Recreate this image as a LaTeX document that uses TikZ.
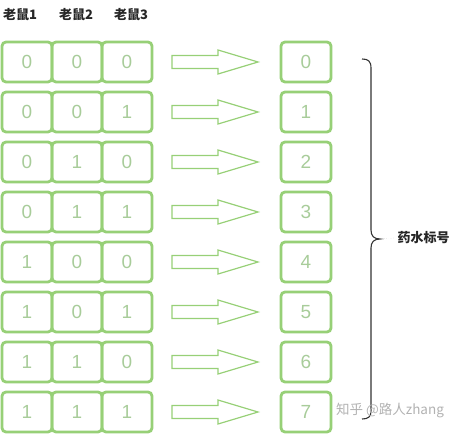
\documentclass[tikz,border=0pt]{standalone}
\usepackage{fontspec}
\setmainfont{Liberation Sans}
\newfontfamily\cjk{Noto Sans CJK SC}
\usetikzlibrary{positioning}

\definecolor{sketchgreen}{HTML}{97D077}
\definecolor{digitgreen}{HTML}{A8CC9A}
\definecolor{bracegray}{HTML}{333333}

\tikzset{
  cellbox/.style={draw=sketchgreen, line width=2.8pt, rounded corners=4pt,
    minimum width=50pt, minimum height=40pt, inner sep=0pt, outer sep=0pt,
    text=digitgreen, font=\fontsize{19}{19}\selectfont},
  blockarrow/.style={draw=sketchgreen, line width=1.2pt, line join=miter},
  headlabel/.style={font=\cjk\bfseries\fontsize{13}{13}\selectfont, text=black!85},
}

\begin{document}
\begin{tikzpicture}[x=1pt,y=-1pt]
	\useasboundingbox (0,0) rectangle (457,433);

	\node[headlabel] (mouse1) at (20,15)  {老鼠1};
	\node[headlabel] (mouse2) at (76,15)  {老鼠2};
	\node[headlabel] (mouse3) at (131,15) {老鼠3};

	\foreach \a/\b/\c [count=\r from 0] in {0/0/0,0/0/1,0/1/0,0/1/1,1/0/0,1/0/1,1/1/0,1/1/1}{
		\node[cellbox] (c\r-1) at (27,{62+50*\r}) {\a};
		\node[cellbox, right=0pt of c\r-1] (c\r-2) {\b};
		\node[cellbox, right=0pt of c\r-2] (c\r-3) {\c};
		\node[cellbox] (out\r) at (306,{62+50*\r}) {\r};
		\draw[blockarrow] ([shift={(20,-6.5)}]c\r-3.east) -- ++(46,0) -- ++(0,-5.5)
			-- ++(40,12) -- ++(-40,12) -- ++(0,-5.5) -- ++(-46,0) -- cycle;
	}

	\coordinate (bracetip) at (380,239);
	\draw[bracegray, line width=1.1pt] (362,59) .. controls (368,59) and (371,61) .. (371,68)
		-- (371,230) .. controls (371,236) and (374,239) .. (bracetip)
		.. controls (374,239) and (371,242) .. (371,248)
		-- (371,411) .. controls (371,417) and (368,419) .. (362,419);

	\node[headlabel, anchor=west] (potionid) at (394,238) {药水标号};
	\draw[black!60, very thin, dotted] (bracetip) -- (potionid.west);

	\node[text=black!30, font=\cjk\fontsize{13.5}{13.5}\selectfont] (mark) at (390,411) {知乎 @路人zhang};
\end{tikzpicture}
\end{document}
